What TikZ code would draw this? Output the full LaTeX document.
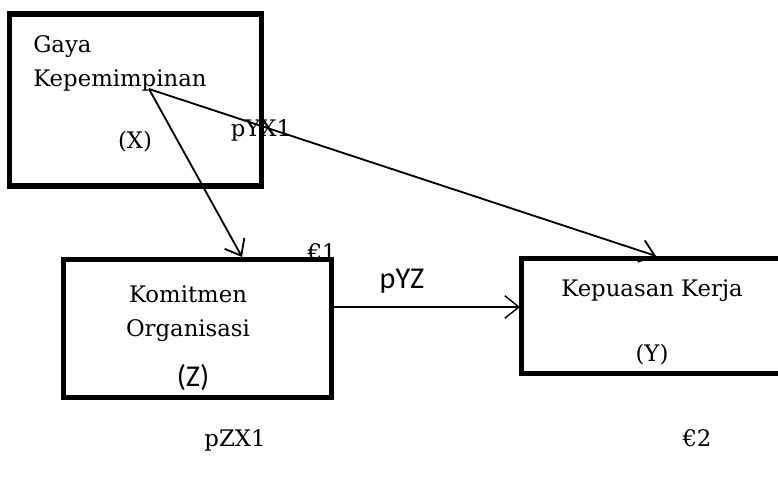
\documentclass[tikz,border=0pt]{standalone}
\usepackage{fontspec}
\setmainfont{DejaVu Serif}
\newfontfamily\labelsans{Carlito}
\usetikzlibrary{arrows.meta}

\begin{document}
\begin{tikzpicture}[x=0.025cm, y=-0.025cm, >={Straight Barb[length=10pt,width=16pt]},
    varbox/.style={draw, line width=3.6pt, inner sep=0pt},
    txt/.style={font=\fontsize{16.2}{20}\selectfont, inner sep=0pt, anchor=base},
    sanstxt/.style={font=\labelsans\fontsize{21.5}{26}\selectfont, inner sep=0pt, anchor=base}]

    \useasboundingbox (0,0) rectangle (778,479);
    \clip (0,0) rectangle (778,479);

    % boxes
    \node[varbox, minimum width=6.28cm, minimum height=4.3cm] (boxX) at (135.5,100) {};
    \node[varbox, minimum width=6.68cm, minimum height=3.43cm] (boxZ) at (197.5,328.5) {};
    \node[varbox, minimum width=6.95cm, minimum height=2.88cm] (boxY) at (661,316) {};

    % box texts
    \node[txt, anchor=base west] (gaya) at (33,53) {Gaya};
    \node[txt, anchor=base west] (kepem) at (33,87) {Kepemimpinan};
    \node[txt] (xlab) at (135,149) {(X)};
    \node[txt] (komit) at (188,302) {Komitmen};
    \node[txt] (organ) at (188,336) {Organisasi};
    \node[sanstxt] (zlab) at (193,386) {(Z)};
    \node[txt] (kepuas) at (652,296) {Kepuasan Kerja};
    \node[txt] (ylab) at (652,361) {(Y)};

    % path labels
    \node[txt] (pyx) at (261,137) {pYX1};
    \node[txt] (e1) at (322,261) {€1};
    \node[sanstxt] (pyz) at (402,288) {pYZ};
    \node[txt] (pzx) at (235,446) {pZX1};
    \node[txt] (e2) at (697,446) {€2};

    % arrows
    \coordinate (src) at (149,89);
    \coordinate (zin) at (242,257);
    \coordinate (yin) at (656,256);
    \coordinate (zout) at (333,307);
    \coordinate (yleft) at (520,307);
    \draw[line width=1.3pt, ->] (src) -- (zin);
    \draw[line width=1.3pt, ->] (src) -- (yin);
    \draw[line width=1pt, ->] (zout) -- (yleft);

\end{tikzpicture}
\end{document}
